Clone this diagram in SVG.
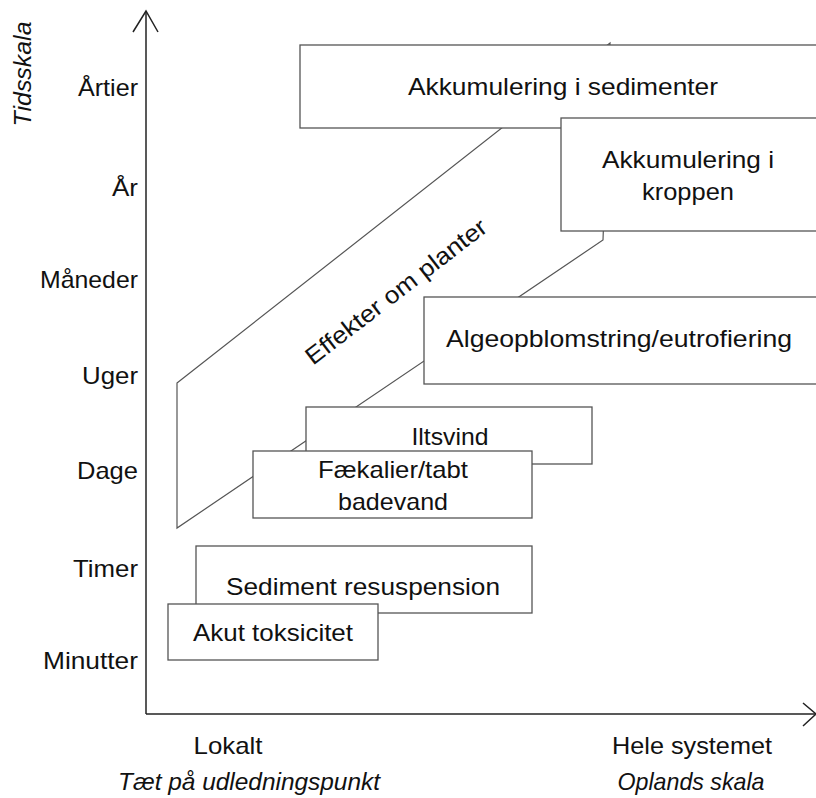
<svg xmlns="http://www.w3.org/2000/svg" width="816" height="798" viewBox="0 0 816 798">
<style>
text{font-family:"Liberation Sans",Arial,sans-serif;font-size:24px;fill:#111}
.it{font-style:italic}
.box{fill:#fff;stroke:#555;stroke-width:1.3}
.ln{fill:none;stroke:#555;stroke-width:1.2}
.ax{fill:none;stroke:#222;stroke-width:1.5}
.m{text-anchor:middle}
.e{text-anchor:end}
</style>
<rect width="816" height="798" fill="#fff"/>
<g id="connectors">
<polygon id="band" class="ln" points="177,383 610,43 603,240 177,528"/>
<text class="m" transform="translate(401,298) rotate(-37.6)" textLength="222" lengthAdjust="spacingAndGlyphs">Effekter om planter</text>
</g>
<g id="n-sedimenter"><rect class="box" x="300" y="45" width="560" height="83"/><text class="m" x="563" y="95" textLength="310" lengthAdjust="spacingAndGlyphs">Akkumulering  i  sedimenter</text></g>
<g id="n-kroppen"><rect class="box" x="561" y="118" width="300" height="113"/><text class="m" x="688" y="168" textLength="172" lengthAdjust="spacingAndGlyphs">Akkumulering  i</text><text class="m" x="688" y="200" textLength="92" lengthAdjust="spacingAndGlyphs">kroppen</text></g>
<g id="n-algeo"><rect class="box" x="424" y="297" width="440" height="87"/><text class="m" x="619" y="347" textLength="346" lengthAdjust="spacingAndGlyphs">Algeopblomstring/eutrofiering</text></g>
<g id="n-iltsvind"><rect class="box" x="306" y="407" width="286" height="57"/><text class="m" x="450" y="445" textLength="77" lengthAdjust="spacingAndGlyphs">Iltsvind</text></g>
<g id="n-faekalier"><rect class="box" x="253" y="451" width="279" height="67"/><text class="m" x="393" y="478" textLength="150" lengthAdjust="spacingAndGlyphs">Fækalier/tabt</text><text class="m" x="393" y="510" textLength="110" lengthAdjust="spacingAndGlyphs">badevand</text></g>
<g id="n-resuspension"><rect class="box" x="196" y="546" width="336" height="67"/><text class="m" x="363" y="595" textLength="274" lengthAdjust="spacingAndGlyphs">Sediment  resuspension</text></g>
<g id="n-akut"><rect class="box" x="168" y="604" width="210" height="56"/><text class="m" x="273" y="641" textLength="160" lengthAdjust="spacingAndGlyphs">Akut  toksicitet</text></g>
<g id="axes">
<line class="ax" x1="146" y1="11" x2="146" y2="714"/>
<polyline class="ax" points="133,32 146,11 158,32"/>
<line class="ax" x1="146" y1="714" x2="815" y2="714"/>
<polyline class="ax" points="803,703 816,714 803,726"/>
</g>
<g id="y-labels">
<text class="e" x="138" y="96" textLength="60" lengthAdjust="spacingAndGlyphs">Årtier</text>
<text class="e" x="138" y="196" textLength="26" lengthAdjust="spacingAndGlyphs">År</text>
<text class="e" x="138" y="288" textLength="98" lengthAdjust="spacingAndGlyphs">Måneder</text>
<text class="e" x="138" y="384" textLength="56" lengthAdjust="spacingAndGlyphs">Uger</text>
<text class="e" x="138" y="479" textLength="61" lengthAdjust="spacingAndGlyphs">Dage</text>
<text class="e" x="138" y="577" textLength="65" lengthAdjust="spacingAndGlyphs">Timer</text>
<text class="e" x="138" y="669" textLength="95" lengthAdjust="spacingAndGlyphs">Minutter</text>
<text class="it m" transform="translate(31,74) rotate(-90)" textLength="105" lengthAdjust="spacingAndGlyphs">Tidsskala</text>
</g>
<g id="x-labels">
<text class="m" x="228" y="754" textLength="69" lengthAdjust="spacingAndGlyphs">Lokalt</text>
<text class="m" x="692" y="754" textLength="160" lengthAdjust="spacingAndGlyphs">Hele systemet</text>
<text class="it m" x="249" y="790" textLength="262" lengthAdjust="spacingAndGlyphs">Tæt på udledningspunkt</text>
<text class="it m" x="691" y="790" textLength="147" lengthAdjust="spacingAndGlyphs">Oplands skala</text>
</g>
</svg>
